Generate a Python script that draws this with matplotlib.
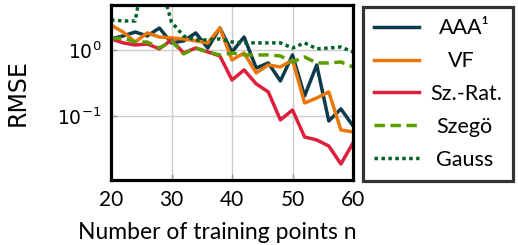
import matplotlib
matplotlib.use("Agg")
from matplotlib import pyplot as plt
import numpy as np

plt.rcParams['font.family'] = ['Lato', 'DejaVu Sans']
plt.rcParams['mathtext.fontset'] = 'dejavusans'

n = np.arange(20, 61, 2)

aaa = [1.47, 1.63, 1.87, 1.63, 2.15, 1.28, 1.37, 1.81, 1.07, 2.15, 0.933,
       1.57, 0.533, 0.635, 0.339, 0.840, 0.201, 0.593, 0.084, 0.128, 0.0707]
vf = [2.39, 1.87, 1.32, 1.81, 1.57, 1.52, 1.47, 1.37, 1.28, 2.15, 0.705,
      0.90, 0.448, 0.593, 0.552, 0.705, 0.157, 0.187, 0.231, 0.0614, 0.0572]
sz_rat = [1.47, 1.28, 1.19, 1.23, 1.04, 1.42, 0.90, 1.07, 0.933, 0.811, 0.351,
          0.498, 0.306, 0.231, 0.087, 0.123, 0.048, 0.0433, 0.035, 0.0187, 0.0389]
szego = [1.47, 1.52, 1.32, 1.32, 1.07, 1.37, 0.87, 1.07, 0.933, 0.84, 0.90,
         0.84, 0.84, 0.84, 0.811, 0.658, 0.783, 0.635, 0.635, 0.658, 0.553]
gauss = [2.85, 2.75, 2.75, 28.0, 12.0, 2.65, 1.63, 1.42, 1.42, 1.47, 1.32,
         1.28, 1.28, 1.28, 1.28, 1.07, 1.28, 1.04, 1.07, 1.11, 0.933]

labels = ['AAA¹', 'VF', 'Sz.-Rat.', 'Szegö', 'Gauss']
colors = ['#0c3b4a', '#e8780c', '#dc1f3a', '#5c9e00', '#00612b']
styles = ['-', '-', '-', (0, (3, 1.6)), (0, (1, 1))]

fig = plt.figure(figsize=(5.18, 2.45), dpi=100)
ax = fig.add_axes([111 / 518, 1 - 180 / 245, 242 / 518, 175 / 245])

series = [aaa, vf, sz_rat, szego, gauss]
for y, lab, c, ls in zip(series, labels, colors, styles):
    ax.plot(n, y, color=c, ls=ls, lw=2.5, label=lab)

ax.set_yscale('log')
ax.set_xlim(20, 60)
ax.set_ylim(0.0107, 4.8)
ax.set_xticks([20, 30, 40, 50, 60])
ax.set_yticks([0.1, 1.0])
ax.minorticks_off()
ax.grid(True, color='#cccccc', lw=1)
ax.tick_params(direction='in', color='#999999', width=1, length=4, pad=7)
ax.tick_params(axis='x', labelsize=15)
ax.tick_params(axis='y', labelsize=13.5)
for lbl in ax.get_yticklabels():
    lbl.set_family('DejaVu Sans')
for s in ax.spines.values():
    s.set_linewidth(2.3)
    s.set_color('black')

ax.set_xlabel('Number of training points n', fontsize=16.5, labelpad=9)
ax.xaxis.label.set_x((217 - 111) / 242)
ax.set_ylabel('RMSE', fontsize=17, family='DejaVu Sans', labelpad=20)

leg = fig.legend(loc='upper left', bbox_to_anchor=(363 / 518, 1 - 7 / 245),
                 frameon=True, fancybox=False, fontsize=15.5, handlelength=2.1,
                 borderpad=0.52, labelspacing=0.6, handletextpad=0.5,
                 borderaxespad=0)
leg.get_frame().set_edgecolor('black')
leg.get_frame().set_linewidth(2.3)

# centre the legend labels within their column
fig.canvas.draw()
texts = leg.get_texts()
widths = [t.get_window_extent().width for t in texts]
m = max(widths)
for t, w in zip(texts, widths):
    t.set_position(((m - w) / 2 * 0.8, 0))

fig.savefig('out.png', dpi=100)
